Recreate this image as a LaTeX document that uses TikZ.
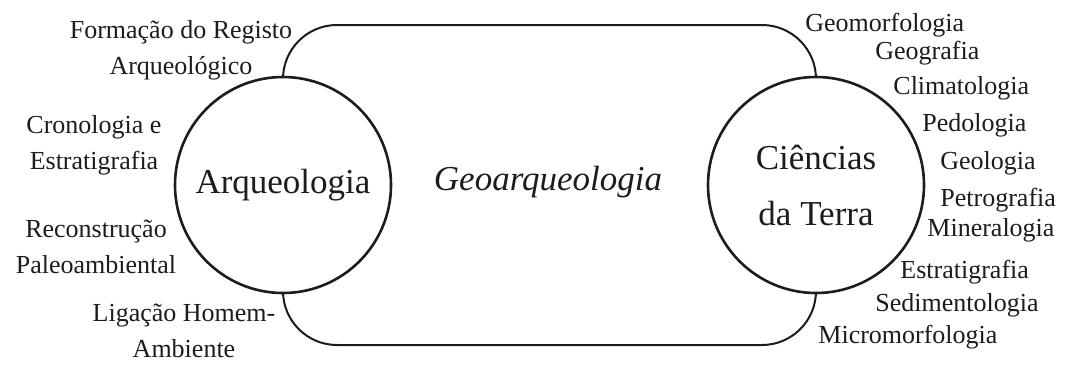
\documentclass[tikz,border=0pt]{standalone}
\usepackage{fontspec}
\setmainfont{Liberation Serif}
\usepackage{xcolor}
\usepackage{tikz}
\definecolor{color_21053}{rgb}{0.11,0.11,0.11}
\definecolor{color_48112}{rgb}{1,1,1}

\begin{document}
\begin{tikzpicture}[x=0.5pt,y=-0.5pt,
	disciplina/.style={font=\fontsize{13}{18}\selectfont, text=color_21053, inner sep=0pt},
	ramo/.style={circle, draw=color_21053, line width=1.3pt, fill=color_48112, minimum size=108pt, inner sep=0pt, align=center, font=\fontsize{17.5}{28}\selectfont, text=color_21053}]
			\useasboundingbox (0,0) rectangle (1065,364);
			% Moldura arredondada por tras dos circulos
			\draw[color_21053, line width=1pt, rounded corners=27pt] (283,25) rectangle (816,345);
			
			% Circulos
			\node[ramo] (arqueologia) at (283,185) {Arqueologia};
			\node[ramo] (terra) at (816,185) {Ciências\\da Terra};
			\node[font=\fontsize{17.5}{21}\selectfont\itshape, text=color_21053] (geoarq) at (548,182) {Geoarqueologia};
			
			% Lado esquerdo
			\node[disciplina, align=center] (registo) at (181,50) {Formação do Registo\\Arqueológico};
			\node[disciplina, align=center] (cronologia) at (94,145) {Cronologia e\\Estratigrafia};
			\node[disciplina, align=center] (paleo) at (96,247) {Reconstrução\\Paleoambiental};
			\node[disciplina, align=center] (ligacao) at (184,331) {Ligação Homem-\\Ambiente};
			
			% Lado direito
			\node[disciplina, anchor=west] (geomorf) at (805,25) {Geomorfologia};
			\node[disciplina, anchor=west] (geograf) at (875,53) {Geografia};
			\node[disciplina, anchor=west] (clima) at (893,88) {Climatologia};
			\node[disciplina, anchor=west] (pedo) at (922,125) {Pedologia};
			\node[disciplina, anchor=west] (geol) at (940,163) {Geologia};
			\node[disciplina, anchor=west] (petro) at (940,200) {Petrografia};
			\node[disciplina, anchor=west] (minera) at (927,230) {Mineralogia};
			\node[disciplina, anchor=west] (estrat) at (900,272) {Estratigrafia};
			\node[disciplina, anchor=west] (sedim) at (875,305) {Sedimentologia};
			\node[disciplina, anchor=west] (micro) at (818,337) {Micromorfologia};
		\end{tikzpicture}
\end{document}
